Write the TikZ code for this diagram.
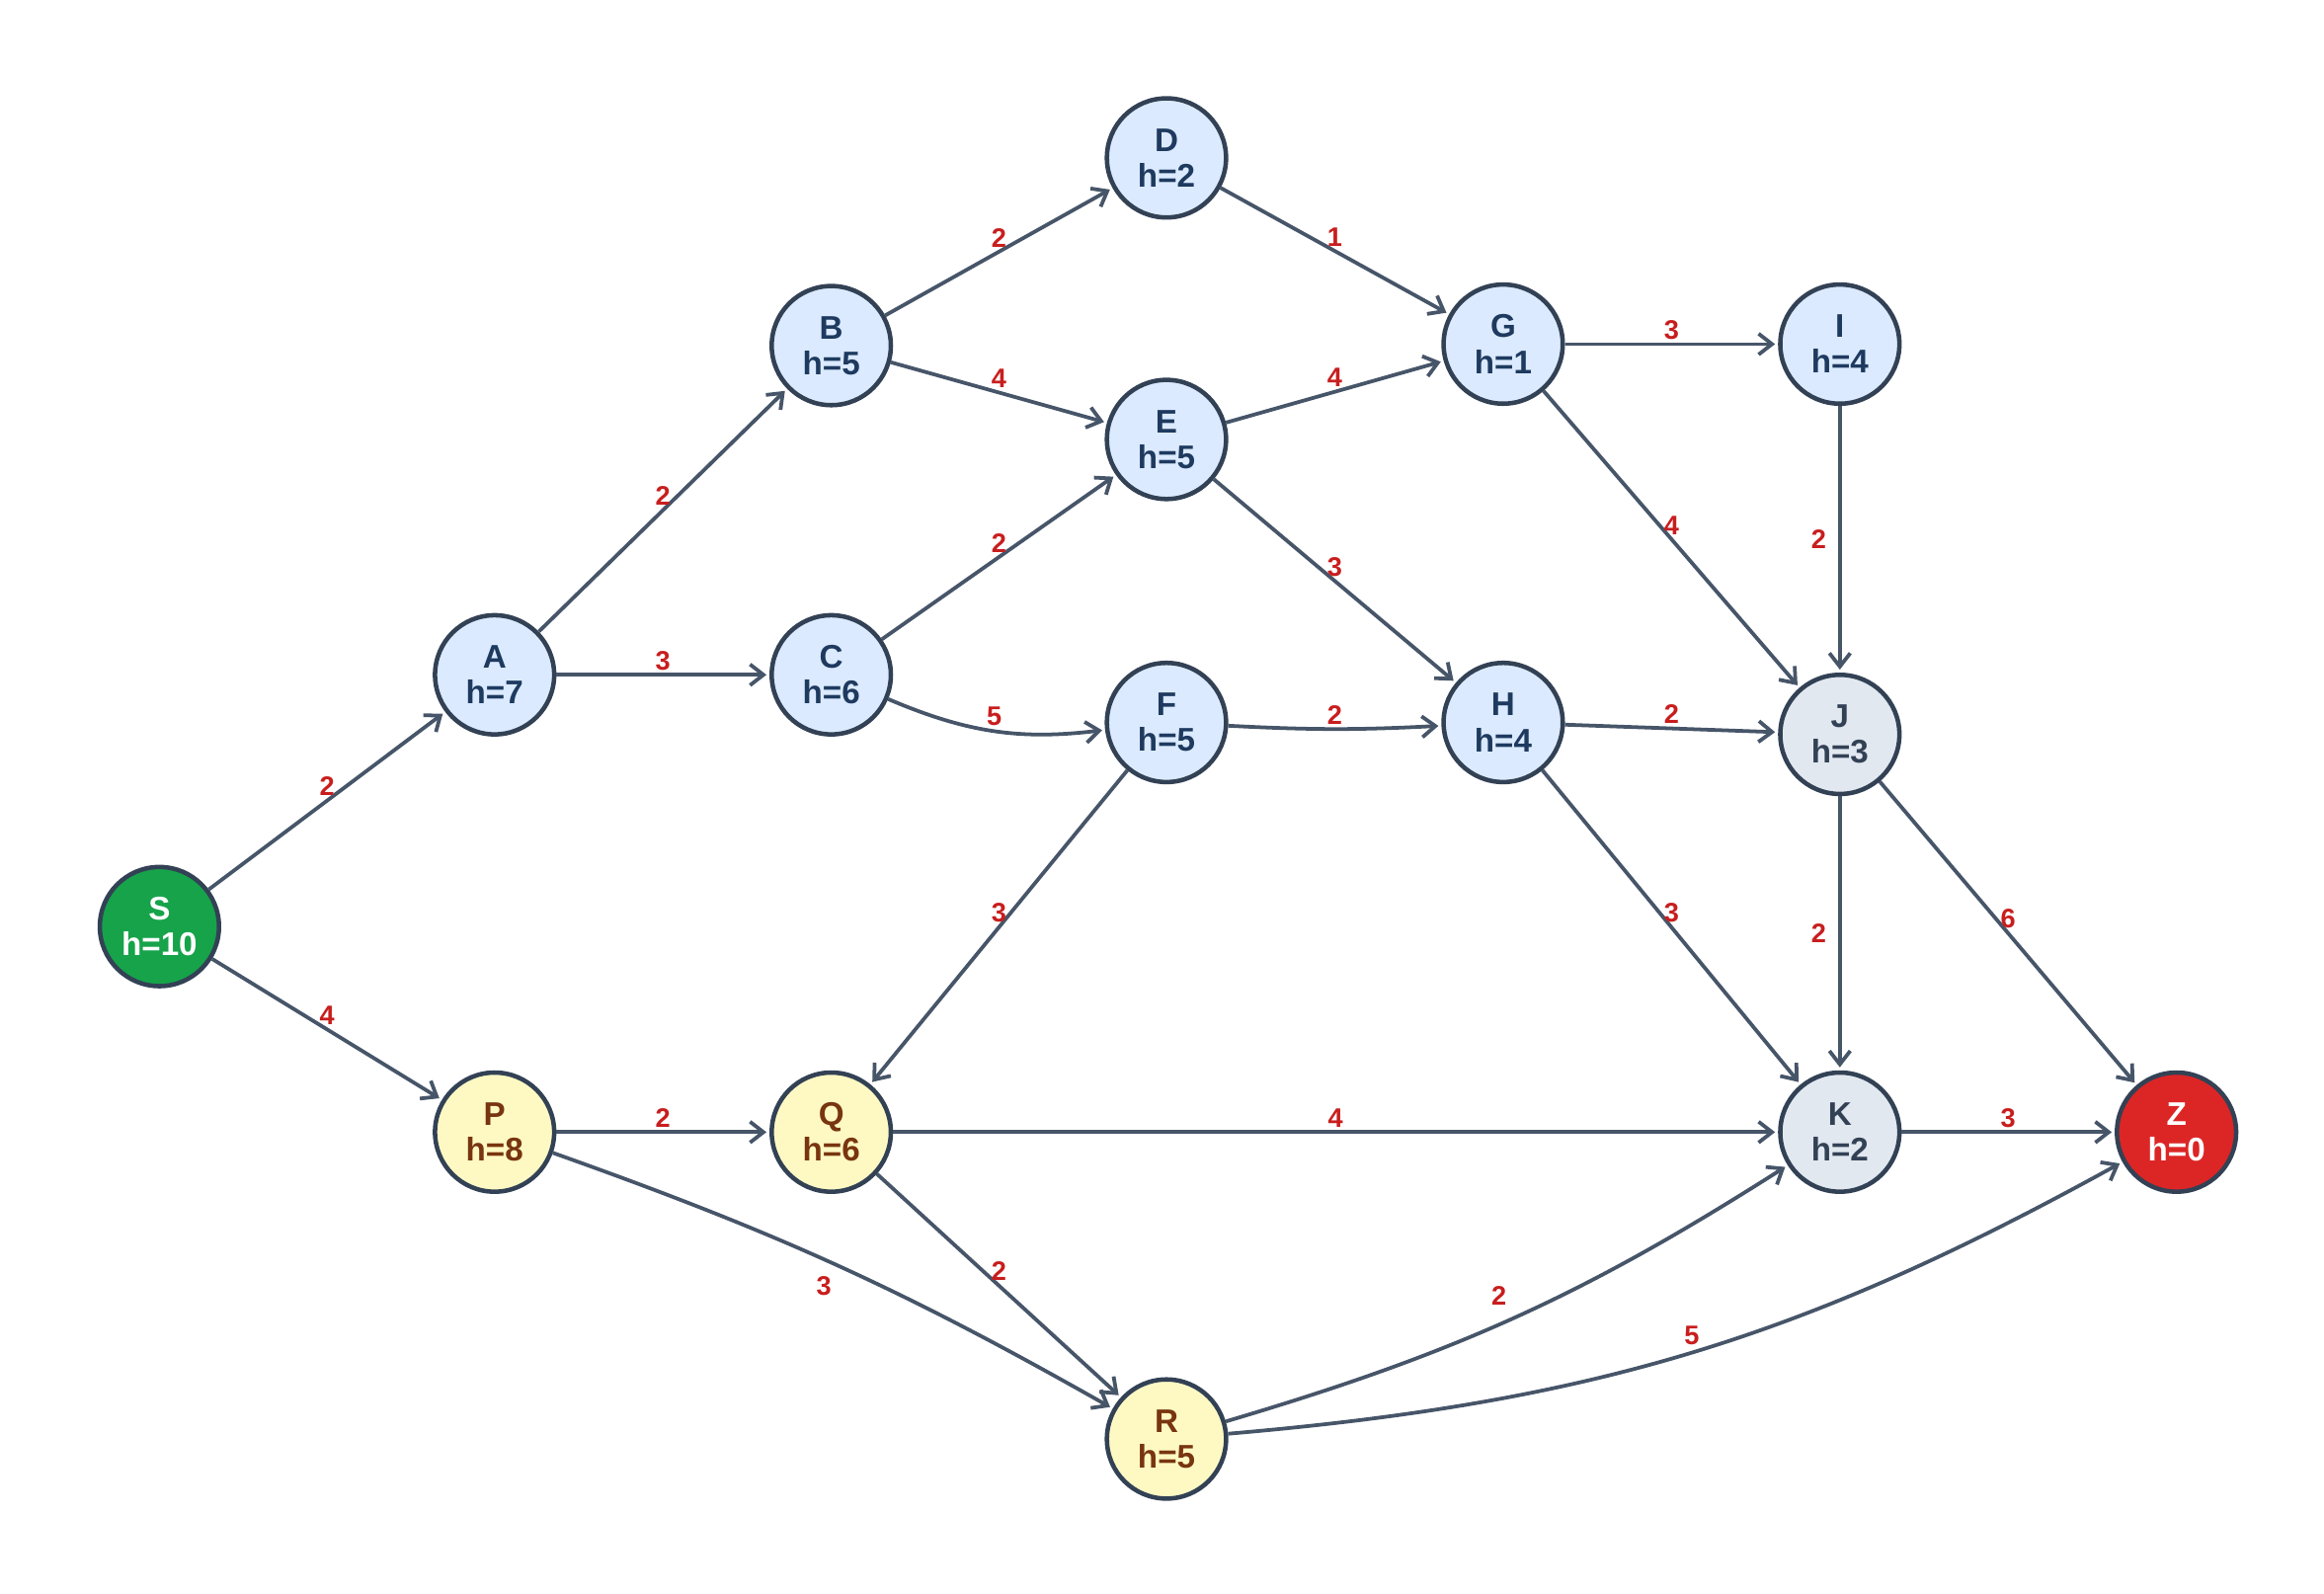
\documentclass[tikz,border=0pt]{standalone}
\usepackage{fontspec}
\setmainfont{Liberation Sans}
\usetikzlibrary{arrows.meta}
\definecolor{edgegray}{HTML}{475569}
\definecolor{rimgray}{HTML}{334155}
\definecolor{wred}{HTML}{C81E1E}
\definecolor{bluefill}{HTML}{DBEAFE}
\definecolor{bluetext}{HTML}{1E3A5F}
\definecolor{yelfill}{HTML}{FEF9C3}
\definecolor{yeltext}{HTML}{78350F}
\definecolor{grayfill}{HTML}{E2E8F0}
\definecolor{startgreen}{HTML}{16A34A}
\definecolor{goalred}{HTML}{DC2626}

\begin{document}
\begin{tikzpicture}[
        x=1pt, y=1pt,
        state/.style={
            circle,
            draw=rimgray,
            line width=3pt,
            minimum size=80pt,
            inner sep=0pt,
            align=center,
            font=\fontsize{22}{24}\selectfont\bfseries
        },
        open/.style={state, fill=bluefill, text=bluetext},
        side/.style={state, fill=yelfill, text=yeltext},
        near/.style={state, fill=grayfill, text=rimgray},
        link/.style={-{Straight Barb[length=9pt,width=14pt,line width=2.5pt]}, line width=2.5pt, edgegray, shorten >=2pt},
        cost/.style={font=\fontsize{18}{18}\selectfont\bfseries, text=wred, inner sep=2pt}
    ]
        \useasboundingbox (0,0) rectangle (1560,-1070);

        % --- STATES ---
        \node[state, fill=startgreen, text=white] (S) at (107,-622) {S\\h=10};
        \node[open] (A) at (332,-453) {A\\h=7};
        \node[open] (B) at (558,-232) {B\\h=5};
        \node[open] (C) at (558,-453) {C\\h=6};
        \node[open] (D) at (783,-106) {D\\h=2};
        \node[open] (E) at (783,-295) {E\\h=5};
        \node[open] (F) at (783,-485) {F\\h=5};
        \node[open] (G) at (1009,-231) {G\\h=1};
        \node[open] (H) at (1009,-485) {H\\h=4};
        \node[open] (I) at (1235,-231) {I\\h=4};
        \node[near] (J) at (1235,-493) {J\\h=3};
        \node[near] (K) at (1235,-760) {K\\h=2};
        \node[state, fill=goalred, text=white] (Z) at (1461,-760) {Z\\h=0};
        \node[side] (P) at (332,-760) {P\\h=8};
        \node[side] (Q) at (558,-760) {Q\\h=6};
        \node[side] (R) at (783,-966) {R\\h=5};

        % --- STRAIGHT LINKS ---
        \foreach \u/\v/\w in {S/A/2, S/P/4, A/B/2, A/C/3, B/D/2, B/E/4, C/E/2,
                D/G/1, E/G/4, E/H/3, F/Q/3, G/I/3, G/J/4, H/J/2, H/K/3,
                J/Z/6, K/Z/3, P/Q/2, Q/K/4, Q/R/2}
            \draw[link] (\u) -- node[cost, midway, above] {\w} (\v);

        % vertical ones
        \draw[link] (I) -- node[cost, midway, left=6pt] {2} (J);
        \draw[link] (J) -- node[cost, midway, left=6pt] {2} (K);

        % --- CURVED LINKS ---
        \draw[link] (C) to[bend right=15] node[cost, midway, above] {5} (F);
        \draw[link] (F) to[bend right=3] node[cost, midway, above] {2} (H);
        \draw[link] (P) to[bend left=5] node[cost, pos=0.47, below=8pt] {3} (R);
        \draw[link] (R) to[bend right=8] node[cost, midway, above left=4pt] {2} (K);
        \draw[link] (R) to[bend right=12] node[cost, midway, above=2pt] {5} (Z);
    \end{tikzpicture}
\end{document}
